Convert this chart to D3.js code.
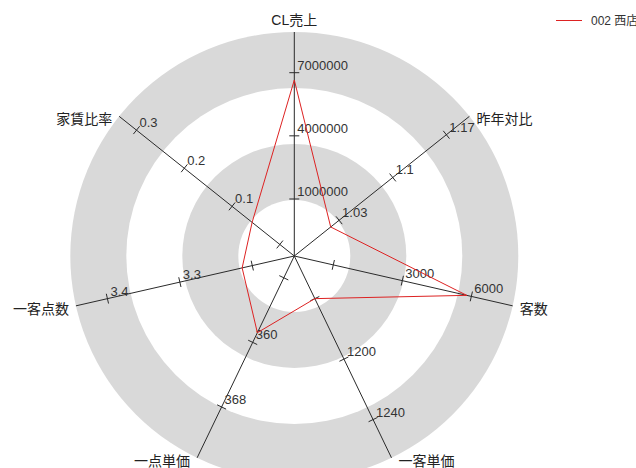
<!DOCTYPE html>
<html><head><meta charset="utf-8">
<script src="https://cdn.jsdelivr.net/npm/d3@7"></script>
<style>
html,body{margin:0;padding:0;background:#fff;overflow:hidden;}
svg{display:block;font-family:"Liberation Sans","Noto Sans CJK JP",sans-serif;}
</style></head>
<body><svg id="chart" width="636" height="468"></svg>
<script>
const categories = ["CL売上","昨年対比","客数","一客単価","一点単価","一客点数","家賃比率"];
const seriesName = "002 西店";
const values = [6650000, 1.019, 5800, 1160, 358.8, 3.214, 0.058];
const axisMin = [-1708000, 0.9715, -1695, 1131.8, 349.3, 3.142, -0.0303];
const axisMax = [8933000, 1.2001, 7797, 1265.3, 374.3, 3.4435, 0.3363];
const tickValues = [[1000000,4000000,7000000],[1.03,1.1,1.17],[0,3000,6000],[1160,1200,1240],[352,360,368],[3.2,3.3,3.4],[0,0.1,0.2,0.3]];
const tickLabels = [["1000000","4000000","7000000"],["1.03","1.1","1.17"],["","3000","6000"],["","1200","1240"],["","360","368"],["","3.3","3.4"],["","0.1","0.2","0.3"]];
const ringCount = 4;

const svg = d3.select("#chart");
const cx = 294.3, cy = 256, R = 224;
const n = categories.length;
const angle = d3.scaleLinear().domain([0, n]).range([0, 2*Math.PI]);
const scales = categories.map((c,i)=>d3.scaleLinear().domain([axisMin[i], axisMax[i]]).range([0, R]));
const pt = (i, r) => [cx + r*Math.sin(angle(i)), cy - r*Math.cos(angle(i))];

// rings
const ringScale = d3.scaleLinear().domain([0, ringCount]).range([0, R]);
const rings = d3.range(ringCount, 0, -1);
svg.append("g").selectAll("circle").data(rings).join("circle")
  .attr("cx", cx).attr("cy", cy).attr("r", d=>ringScale(d))
  .attr("fill", d=> d%2===0 ? "#d9d9d9" : "#ffffff");

// axes
const ax = svg.append("g");
categories.forEach((c,i)=>{
  const e = pt(i, R);
  ax.append("line").attr("x1",cx).attr("y1",cy).attr("x2",e[0]).attr("y2",e[1])
    .attr("stroke","#2a2a2a").attr("stroke-width",1);
  const px = Math.cos(angle(i)), py = Math.sin(angle(i));
  tickValues[i].forEach((t,k)=>{
    const p = pt(i, scales[i](t));
    ax.append("line").attr("x1",p[0]-5*px).attr("y1",p[1]-5*py)
      .attr("x2",p[0]+5*px).attr("y2",p[1]+5*py)
      .attr("stroke","#2a2a2a").attr("stroke-width",1);
    if (tickLabels[i][k]) {
      ax.append("text").attr("x",p[0]+3).attr("y",p[1]-3)
        .attr("font-size",13).attr("fill","#333").text(tickLabels[i][k]);
    }
  });
});

// series polygon
const line = d3.line().curve(d3.curveLinearClosed);
svg.append("path")
  .attr("d", line(values.map((v,i)=>pt(i, scales[i](v)))))
  .attr("fill","none").attr("stroke","#dd2222").attr("stroke-width",1);

// category labels
categories.forEach((c,i)=>{
  const e = pt(i, R);
  const s = Math.sin(angle(i));
  const t = svg.append("text").attr("font-size",14).attr("fill","#222").text(c);
  if (Math.abs(s) < 0.01) {
    t.attr("x", e[0]).attr("y", e[1]-7).attr("text-anchor","middle");
  } else {
    t.attr("x", e[0] + (s>0?7:-7)).attr("y", e[1]+8).attr("text-anchor", s>0?"start":"end");
  }
});

// legend
const lg = svg.append("g");
lg.append("line").attr("x1",556).attr("y1",20.5).attr("x2",582).attr("y2",20.5)
  .attr("stroke","#dd2222").attr("stroke-width",1);
lg.append("text").attr("x",591).attr("y",25).attr("font-size",12).attr("fill","#333").text(seriesName);
</script></body></html>
